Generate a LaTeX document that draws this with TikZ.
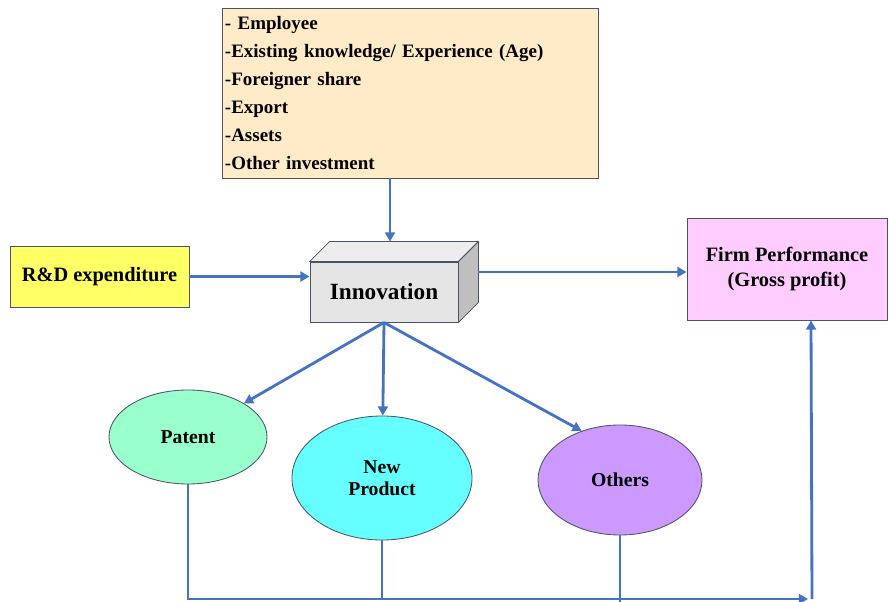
\documentclass[tikz,border=0pt]{standalone}
\usepackage{fontspec}
\setmainfont{Liberation Serif}
\usepackage{xcolor}
\usepackage{tikz}
\usetikzlibrary{positioning,arrows.meta}
\usetikzlibrary{shapes.geometric}
\tikzset{every picture/.style={line width=0.75pt}}
\definecolor{lineblue}{HTML}{4472C4}
\definecolor{peach}{HTML}{FFEBC8}
\definecolor{rdyellow}{HTML}{FFFF66}
\definecolor{pink}{HTML}{FFCCFF}
\definecolor{mint}{HTML}{99FFCC}
\definecolor{aqua}{HTML}{66FFFF}
\definecolor{lilac}{HTML}{CC99FF}
\definecolor{edge}{HTML}{4A5464}
\tikzset{
  box/.style={draw=edge, line width=0.6pt, inner sep=0pt, font=\bfseries},
  blob/.style={ellipse, draw=edge, line width=0.6pt, inner sep=0pt, align=center, font=\fontsize{14}{16}\selectfont\bfseries},
  arr/.style={draw=lineblue, line width=2pt, -{Triangle[length=6.5pt,width=7pt]}},
  ln/.style={draw=lineblue, line width=2pt}
}

\begin{document}
\begin{tikzpicture}[x=0.025cm, y=-0.025cm]
\useasboundingbox (0,0) rectangle (889,602);
% factors
\node[box, fill=peach, minimum width=9.4cm, minimum height=4.25cm, text width=9.25cm, align=left,
  font=\fontsize{13.5}{19.8}\selectfont\bfseries] (top) at (410,93)
  {- Employee\\-Existing knowledge/ Experience (Age)\\-Foreigner share\\-Export\\-Assets\\-Other investment};
\node[box, fill=rdyellow, minimum width=4.475cm, minimum height=1.525cm, font=\fontsize{14.5}{16}\selectfont\bfseries] (rd) at (99.5,276.5) {R\&D expenditure};
\node[box, fill=pink, minimum width=5cm, minimum height=2.55cm, align=center, font=\fontsize{14.5}{18}\selectfont\bfseries] (firm) at (787,269) {Firm Performance\\(Gross profit)};
% innovation block
\node[box, fill=black!10, minimum width=3.7cm, minimum height=1.5cm, font=\fontsize{16.5}{18}\selectfont\bfseries] (inno) at (384,292) {Innovation};
\draw[draw=edge, line width=0.6pt, fill=black!7] (inno.north west) -- ([shift={(0.5cm,0.5cm)}]inno.north west)
  -- ([shift={(0.5cm,0.5cm)}]inno.north east) -- (inno.north east) -- cycle;
\draw[draw=edge, line width=0.6pt, fill=black!25] (inno.north east) -- ([shift={(0.5cm,0.5cm)}]inno.north east)
  -- ([shift={(0.5cm,0.5cm)}]inno.south east) -- (inno.south east) -- cycle;
\coordinate (innoT) at ([shift={(0.15cm,0.5cm)}]inno.north);
\coordinate (innoR) at ([shift={(0.5cm,0.5cm)}]inno.east);
% outcomes
\node[blob, fill=mint, minimum width=3.95cm, minimum height=2.35cm] (patent) at (188,437) {Patent};
\node[blob, fill=aqua, minimum width=4.5cm, minimum height=3.1cm] (newp) at (382,478) {New\\Product};
\node[blob, fill=lilac, minimum width=4.1cm, minimum height=2.75cm] (others) at (620,480) {Others};
%
\draw[arr] (top.south -| innoT) -- (innoT);
\draw[arr] (rd) -- (rd -| inno.west);
\draw[arr] (innoR) -- (innoR -| firm.west);
\draw[arr] (inno.south) -- (patent.31);
\draw[arr] (inno.south) -- (newp);
\draw[arr] (inno.south) -- (others.128);
% feedback to performance
\coordinate (corner) at (812,599);
\coordinate (fin) at ([xshift=0.6cm]firm.south);
\draw[arr] (patent.south) |- ([xshift=-0.1cm]corner);
\draw[arr] (corner) -- (fin);
\draw[ln] (newp.south) -- (newp.south |- corner);
\draw[ln] (others.south) -- ([yshift=-0.08cm]others.south |- corner);
\end{tikzpicture}
\end{document}
